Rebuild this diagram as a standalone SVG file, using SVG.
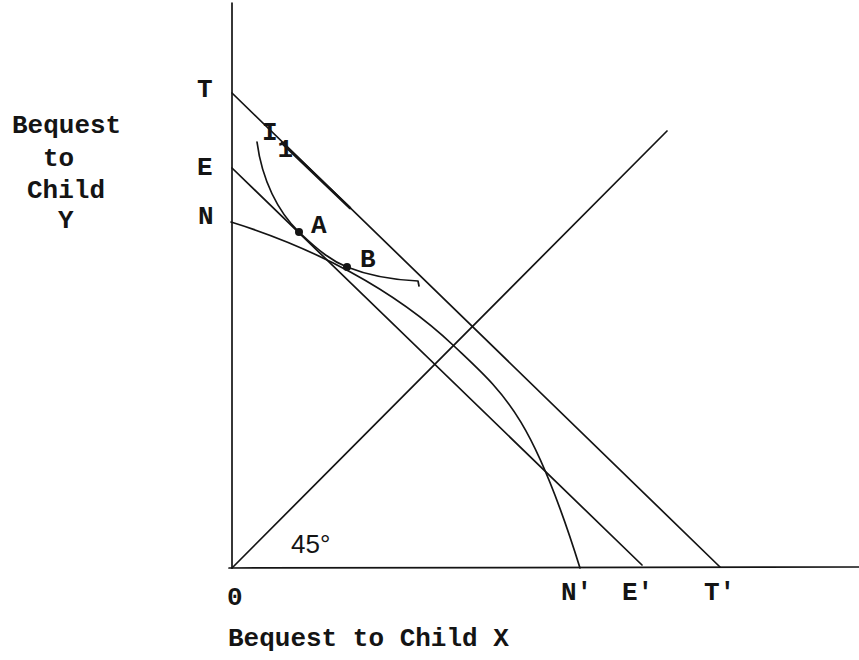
<svg xmlns="http://www.w3.org/2000/svg" width="859" height="660" viewBox="0 0 859 660">
<style>
.ln{fill:none;stroke:#141414;stroke-width:1.7;stroke-linecap:round;stroke-linejoin:round}
.tw{font-family:"Liberation Mono","Courier New",monospace;font-size:26px;font-weight:bold;fill:#141414}
.sa{font-family:"Liberation Sans",Arial,sans-serif;font-size:26px;fill:#141414}
.dot{fill:#141414}
</style>
<rect width="859" height="660" fill="#ffffff"/>
<g id="axes">
<path class="ln" d="M232,3 L232,568"/>
<path class="ln" d="M229,568 L859,567"/>
</g>
<g id="lines">
<path class="ln" d="M232,568 L667,131"/>
<path class="ln" d="M232,93 L720,567"/>
<path class="ln" d="M282,143 L350,208" style="stroke-width:2.6"/>
<path class="ln" d="M232,168 L642,565"/>
<path class="ln" d="M231,222 C312,247 394,289 454,346 C504,393.5 532,414 580,568"/>
<path class="ln" d="M257,142 C262,180 278,212 299,232 C320,252 332,261 347,267 C372,277 395,280 418,281 L419,286"/>
</g>
<g id="points">
<circle class="dot" cx="299" cy="232" r="4"/>
<circle class="dot" cx="347" cy="267" r="4"/>
</g>
<g id="labels">
<text class="tw" x="12" y="133">Bequest</text>
<text class="tw" x="43" y="166">to</text>
<text class="tw" x="27" y="198">Child</text>
<text class="tw" x="58" y="228">Y</text>
<text class="tw" x="197" y="97">T</text>
<text class="tw" x="197" y="175">E</text>
<text class="tw" x="198" y="224">N</text>
<text class="tw" x="262" y="140">I<tspan dy="17">1</tspan></text>
<text class="tw" x="311" y="233">A</text>
<text class="tw" x="360" y="267">B</text>
<text class="sa" x="291" y="553">45°</text>
<text class="tw" x="227" y="605">0</text>
<text class="tw" x="561" y="600">N'</text>
<text class="tw" x="622" y="600">E'</text>
<text class="tw" x="704" y="600">T'</text>
<text class="tw" x="228" y="646">Bequest to Child X</text>
</g>
</svg>
